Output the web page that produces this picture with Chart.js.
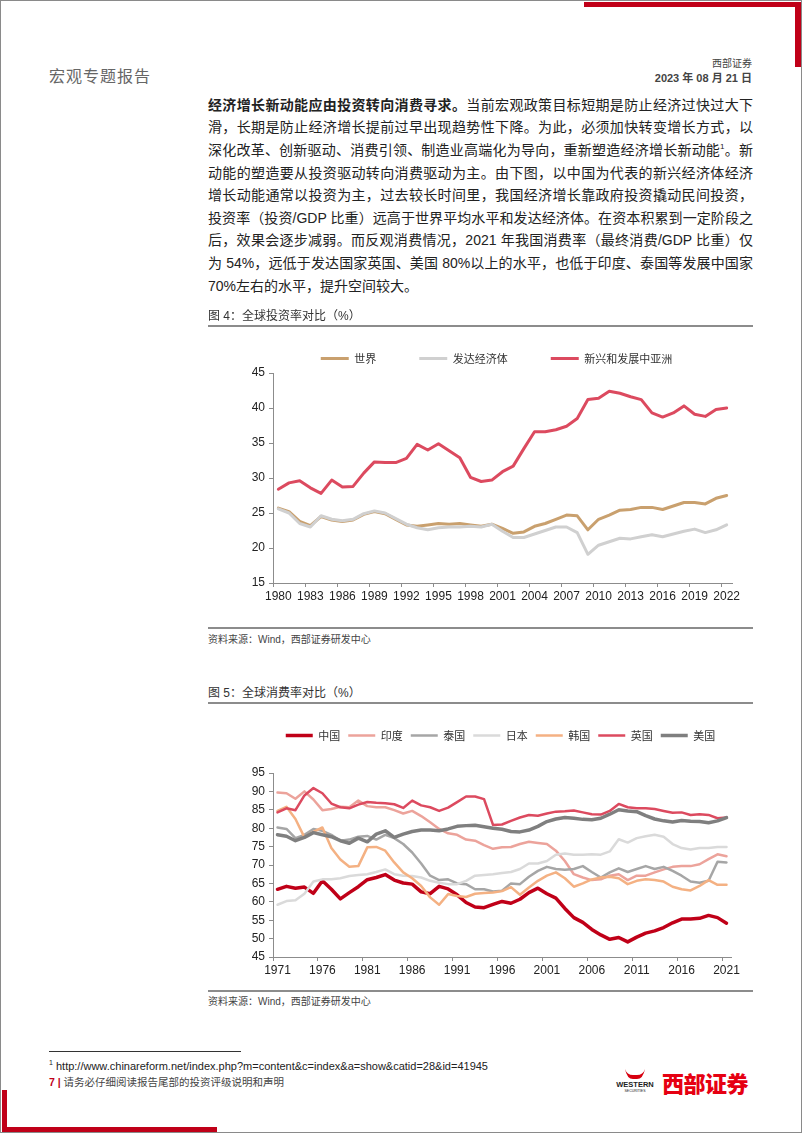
<!DOCTYPE html>
<html lang="zh-CN">
<head>
<meta charset="utf-8">
<title>宏观专题报告</title>
<script src="https://cdn.jsdelivr.net/npm/chart.js@4.4.0/dist/chart.umd.min.js"></script>
<style>
  html, body { margin: 0; padding: 0; background: #fff; }
  #page { position: relative; width: 802px; height: 1133px; overflow: hidden; box-sizing: border-box;
          border: 1px solid #8a8a8a; font-family: "Liberation Sans", "Noto Sans CJK SC", sans-serif; color: #222; }
  .abs { position: absolute; }
  .red { background: #c00018; }
  .line { position: absolute; left: 207px; width: 545px; height: 22.6px; line-height: 22.6px; font-size: 14px;
          text-align: justify; text-align-last: justify; color: #222; }
  .line.last { text-align-last: left; }
  .line sup { font-size: 8px; line-height: 0; vertical-align: 6px; }
  .figtitle { left: 207px; font-size: 12px; color: #333; z-index: 2; }
  .rule { left: 207px; width: 545px; background: #8c8c8c; }
  .src { left: 207px; font-size: 10px; color: #444; }
  canvas { position: absolute; }
</style>
</head>
<body>
<div id="page">
  <div class="abs red" style="left:583px; top:1px; width:217px; height:5px;"></div>
  <div class="abs red" style="left:794px; top:1px; width:6px; height:65px;"></div>

  <div class="abs" style="left:48px; top:62px; font-size:16px; color:#666; letter-spacing:1px;">宏观专题报告</div>
  <div class="abs" style="right:49px; top:54px; font-size:10px; color:#444;">西部证券</div>
  <div class="abs" style="right:49px; top:68px; font-size:11px; font-weight:bold; color:#444;">2023 年 08 月 21 日</div>

  <div class="line" style="top:92.7px;"><b>经济增长新动能应由投资转向消费寻求。</b>当前宏观政策目标短期是防止经济过快过大下</div>
  <div class="line" style="top:115.3px;">滑，长期是防止经济增长提前过早出现趋势性下降。为此，必须加快转变增长方式，以</div>
  <div class="line" style="top:137.9px;">深化改革、创新驱动、消费引领、制造业高端化为导向，重新塑造经济增长新动能<sup>1</sup>。新</div>
  <div class="line" style="top:160.5px;">动能的塑造要从投资驱动转向消费驱动为主。由下图，以中国为代表的新兴经济体经济</div>
  <div class="line" style="top:183.1px;">增长动能通常以投资为主，过去较长时间里，我国经济增长靠政府投资撬动民间投资，</div>
  <div class="line" style="top:205.7px;">投资率（投资/GDP 比重）远高于世界平均水平和发达经济体。在资本积累到一定阶段之</div>
  <div class="line" style="top:228.3px;">后，效果会逐步减弱。而反观消费情况，2021 年我国消费率（最终消费/GDP 比重）仅</div>
  <div class="line" style="top:250.9px;">为 54%，远低于发达国家英国、美国 80%以上的水平，也低于印度、泰国等发展中国家</div>
  <div class="line last" style="top:273.5px;">70%左右的水平，提升空间较大。</div>

  <div class="abs figtitle" style="top:305px;">图 4：全球投资率对比（%）</div>
  <div class="abs rule" style="top:324px; height:2px;"></div>
  <canvas id="invChart" width="530" height="295" style="left:230px; top:309px;"></canvas>
  <div class="abs rule" style="top:626px; height:2px;"></div>
  <div class="abs src" style="top:630px;">资料来源：Wind，西部证券研发中心</div>

  <div class="abs figtitle" style="top:682px;">图 5：全球消费率对比（%）</div>
  <div class="abs rule" style="top:701px; height:2px;"></div>
  <canvas id="conChart" width="530" height="257" style="left:230px; top:721px;"></canvas>
  <div class="abs rule" style="top:989px; height:2px;"></div>
  <div class="abs src" style="top:992px;">资料来源：Wind，西部证券研发中心</div>

  <div class="abs" style="left:48px; top:1050px; width:192px; height:1px; background:#333;"></div>
  <div class="abs" style="left:48px; top:1058px; font-size:11px; color:#222;"><sup style="font-size:7px;">1</sup> http://www.chinareform.net/index.php?m=content&amp;c=index&amp;a=show&amp;catid=28&amp;id=41945</div>
  <div class="abs" style="left:48px; top:1073px; font-size:10.5px; color:#444;"><b style="color:#c00018;">7 |</b> 请务必仔细阅读报告尾部的投资评级说明和声明</div>

  <svg class="abs" style="left:612px; top:1066px;" width="44" height="26" viewBox="0 0 44 26">
    <path d="M12 2 Q14 8 20 8 L24 8 Q30 8 32 2 Q30 12 24 12 L20 12 Q14 12 12 2 Z" fill="#d7000f"/>
    <text x="22" y="20" text-anchor="middle" font-family="Liberation Sans" font-weight="bold" font-size="7.5" fill="#222">WESTERN</text>
    <text x="22" y="25" text-anchor="middle" font-family="Liberation Sans" font-size="3.5" fill="#222">SECURITIES</text>
  </svg>
  <div class="abs" style="left:661px; top:1065px; font-size:22px; font-weight:900; color:#e60012; letter-spacing:-0.5px;">西部证券</div>

  <div class="abs red" style="left:1px; top:1089px; width:5px; height:43px;"></div>
  <div class="abs red" style="left:1px; top:1126px; width:215px; height:6px;"></div>
</div>

<script>
// 图4：全球投资率对比（%）
const invYears = ['1980','1981','1982','1983','1984','1985','1986','1987','1988','1989',
  '1990','1991','1992','1993','1994','1995','1996','1997','1998','1999',
  '2000','2001','2002','2003','2004','2005','2006','2007','2008','2009',
  '2010','2011','2012','2013','2014','2015','2016','2017','2018','2019',
  '2020','2021','2022'];
const world = [25.7, 25.2, 23.8, 23.2, 24.5, 24.0, 23.8, 24.0, 24.8, 25.2,
  24.9, 24.1, 23.3, 23.1, 23.3, 23.5, 23.4, 23.5, 23.3, 23.1,
  23.4, 22.8, 22.1, 22.3, 23.1, 23.5, 24.1, 24.7, 24.6, 22.6,
  24.1, 24.7, 25.4, 25.5, 25.8, 25.8, 25.5, 26.0, 26.5, 26.5,
  26.3, 27.1, 27.5];
const advanced = [25.6, 25.0, 23.5, 23.0, 24.6, 24.1, 23.9, 24.1, 24.9, 25.3,
  25.0, 24.2, 23.4, 22.9, 22.6, 22.9, 23.0, 23.0, 23.1, 23.0,
  23.4, 22.4, 21.5, 21.5, 22.0, 22.5, 23.0, 23.0, 22.2, 19.1,
  20.4, 20.9, 21.4, 21.3, 21.6, 21.9, 21.6, 22.0, 22.4, 22.7,
  22.2, 22.6, 23.3];
const emergingAsia = [28.4, 29.3, 29.6, 28.6, 27.8, 29.7, 28.7, 28.8, 30.7, 32.3,
  32.2, 32.2, 32.8, 34.8, 34.0, 34.9, 33.9, 32.9, 30.1, 29.5,
  29.7, 30.9, 31.7, 34.2, 36.6, 36.6, 36.9, 37.4, 38.5, 41.2,
  41.4, 42.4, 42.1, 41.6, 41.2, 39.3, 38.7, 39.3, 40.3, 39.1,
  38.8, 39.8, 40.0];

// 图5：全球消费率对比（%）
const conYears = ['1971','1972','1973','1974','1975','1976','1977','1978','1979','1980',
  '1981','1982','1983','1984','1985','1986','1987','1988','1989','1990',
  '1991','1992','1993','1994','1995','1996','1997','1998','1999','2000',
  '2001','2002','2003','2004','2005','2006','2007','2008','2009','2010',
  '2011','2012','2013','2014','2015','2016','2017','2018','2019','2020',
  '2021'];
const china = [63.4, 64.2, 63.7, 64.0, 62.3, 65.7, 63.4, 60.8, 62.5, 64.1,
  66.0, 66.6, 67.4, 65.9, 65.1, 64.8, 62.7, 62.2, 64.2, 63.5,
  61.9, 59.8, 58.6, 58.4, 59.3, 60.1, 59.6, 60.7, 62.5, 63.7,
  62.2, 61.0, 58.2, 55.7, 54.4, 52.5, 51.0, 49.8, 50.3, 49.1,
  50.4, 51.5, 52.1, 53.0, 54.3, 55.3, 55.3, 55.5, 56.3, 55.7,
  54.2];
const india = [89.7, 89.5, 88.0, 90.0, 87.8, 84.9, 85.2, 85.8, 85.7, 87.5,
  86.0, 85.7, 85.7, 84.9, 84.0, 84.7, 83.3, 81.6, 79.8, 78.6,
  78.2, 76.9, 76.6, 75.4, 74.4, 74.8, 74.9, 75.7, 76.3, 76.0,
  75.7, 73.9, 71.1, 67.5, 66.6, 65.9, 66.1, 67.1, 67.5, 65.9,
  67.1, 67.1, 68.0, 68.8, 69.5, 69.7, 69.7, 70.2, 71.6, 72.9,
  72.4];
const thailand = [80.2, 79.8, 77.3, 78.2, 79.8, 79.3, 78.2, 76.6, 76.9, 77.7,
  77.9, 76.9, 78.2, 77.3, 75.7, 73.4, 70.4, 67.1, 65.9, 66.1,
  65.0, 64.8, 63.4, 63.4, 62.8, 63.0, 65.0, 64.8, 66.8, 68.4,
  69.5, 68.9, 68.7, 68.9, 69.7, 68.1, 66.6, 68.0, 69.1, 68.1,
  68.9, 69.7, 68.9, 69.5, 68.4, 67.1, 65.5, 65.2, 65.7, 70.9,
  70.7];
const japan = [59.2, 60.2, 60.4, 62.2, 65.5, 66.1, 66.1, 66.4, 67.0, 67.3,
  67.5, 68.1, 68.8, 67.5, 67.1, 67.0, 66.6, 65.7, 65.2, 64.8,
  64.8, 65.7, 67.1, 67.3, 67.5, 67.8, 68.1, 68.9, 70.4, 70.4,
  71.1, 72.8, 73.1, 72.8, 72.8, 72.9, 72.8, 73.7, 77.0, 76.1,
  77.3, 77.8, 78.2, 77.7, 75.7, 74.6, 74.2, 74.6, 74.6, 74.9,
  74.9];
const korea = [84.7, 85.8, 82.5, 77.5, 79.0, 80.2, 74.6, 71.5, 69.5, 69.7,
  74.8, 74.9, 73.9, 70.7, 68.0, 66.4, 64.3, 61.2, 59.2, 62.1,
  61.6, 61.3, 62.2, 62.4, 62.5, 62.9, 64.0, 61.9, 63.9, 65.7,
  67.1, 68.0, 66.4, 64.1, 65.0, 66.1, 66.6, 66.8, 66.4, 64.8,
  65.7, 66.1, 65.9, 65.5, 64.1, 63.4, 63.1, 64.3, 65.9, 64.6,
  64.6];
const uk = [84.3, 85.4, 84.9, 88.9, 90.9, 89.5, 86.7, 85.7, 85.4, 86.4,
  87.1, 86.9, 86.8, 86.5, 85.5, 87.5, 86.2, 85.7, 84.7, 85.6,
  87.1, 88.6, 88.6, 87.9, 80.9, 81.0, 82.0, 82.9, 83.6, 83.4,
  84.0, 84.5, 84.6, 84.8, 84.3, 83.8, 83.7, 84.7, 86.6, 85.7,
  85.4, 85.4, 85.2, 84.7, 84.2, 84.3, 83.6, 83.8, 83.6, 82.7,
  82.9];
const usa = [78.2, 77.8, 76.6, 77.5, 78.8, 78.2, 77.7, 76.6, 75.9, 77.3,
  76.3, 78.4, 79.3, 77.5, 78.4, 79.1, 79.5, 79.5, 79.3, 79.8,
  80.5, 80.7, 80.8, 80.4, 80.0, 79.7, 79.1, 79.0, 79.5, 80.5,
  81.8, 82.5, 82.9, 82.7, 82.4, 82.3, 82.7, 83.8, 85.0, 84.7,
  84.5, 83.4, 82.5, 82.0, 81.7, 82.1, 81.9, 81.8, 81.5, 82.0,
  82.9];

const AXIS = '#8c8c8c';
const tickFont = { family: '"Liberation Sans", Arial, sans-serif', size: 12 };
const legendFont = { family: '"Noto Sans CJK SC", sans-serif', size: 11 };

function serie(label, data, color, width, i) {
  return {
    label, data,
    borderColor: color, backgroundColor: color, borderWidth: width,
    pointRadius: 0, pointHoverRadius: 0, tension: 0,
    borderJoinStyle: 'round', borderCapStyle: 'round',
    order: -i // later series drawn on top, as in the source
  };
}

// fixed legend height, and legend row nudged right so it sits over the plot
function legendBox(h, shift) {
  return {
    id: 'legendBox',
    beforeInit(chart) {
      const fit = chart.legend.fit;
      chart.legend.fit = function () { fit.call(this); this.height = h; };
    },
    afterLayout(chart) {
      chart.legend.left += shift;
    }
  };
}

function makeChart(id, labels, datasets, o) {
  return new Chart(document.getElementById(id), {
    type: 'line',
    data: { labels, datasets },
    options: {
      responsive: false,
      animation: false,
      devicePixelRatio: 1,
      layout: { padding: { left: 0, right: o.padRight, top: 0, bottom: 0 } },
      plugins: {
        tooltip: { enabled: false },
        legend: {
          position: 'top',
          align: 'center',
          labels: {
            usePointStyle: true,
            pointStyle: 'line',
            pointStyleWidth: o.box,
            padding: o.gap,
            color: '#333',
            font: legendFont,
            sort: (a, b) => a.datasetIndex - b.datasetIndex
          }
        }
      },
      scales: {
        x: {
          type: 'category',
          offset: true,
          grid: {
            offset: true, drawOnChartArea: false, drawTicks: true, tickLength: 4,
            tickColor: c => (c.index % o.every === 0 ? AXIS : 'rgba(0,0,0,0)')
          },
          border: { color: AXIS, width: 1 },
          ticks: {
            autoSkip: false, maxRotation: 0, minRotation: 0, padding: 2, color: '#222', font: tickFont,
            callback: (v, i) => (i % o.every === 0 ? labels[i] : '')
          },
          afterFit: s => { s.height = 22; }
        },
        y: {
          min: o.min, max: o.max,
          ticks: { stepSize: 5, padding: 4, color: '#222', font: tickFont },
          grid: { drawOnChartArea: false, drawTicks: true, tickLength: 4, tickColor: AXIS },
          border: { color: AXIS, width: 1 },
          afterFit: s => { s.width = 42; }
        }
      }
    },
    plugins: [legendBox(o.legendH, o.shift)]
  });
}

makeChart('invChart', invYears, [
  serie('世界', world, '#c9a06e', 3, 0),
  serie('发达经济体', advanced, '#d0d0d0', 3, 1),
  serie('新兴和发展中亚洲', emergingAsia, '#dc4a5f', 3, 2)
], { every: 3, min: 15, max: 45, box: 28, gap: 43, padRight: 29, shift: 30, legendH: 63 });

makeChart('conChart', conYears, [
  serie('中国', china, '#c00018', 3.5, 0),
  serie('印度', india, '#eca39b', 2.5, 1),
  serie('泰国', thailand, '#a6a6a6', 2.5, 2),
  serie('日本', japan, '#dadada', 2.5, 3),
  serie('韩国', korea, '#f4b183', 2.5, 4),
  serie('英国', uk, '#dc4a5f', 2.5, 5),
  serie('美国', usa, '#7f7f7f', 3.5, 6)
], { every: 5, min: 45, max: 95, box: 27, gap: 8, padRight: 30, shift: 39, legendH: 51 });
</script>
</body>
</html>
